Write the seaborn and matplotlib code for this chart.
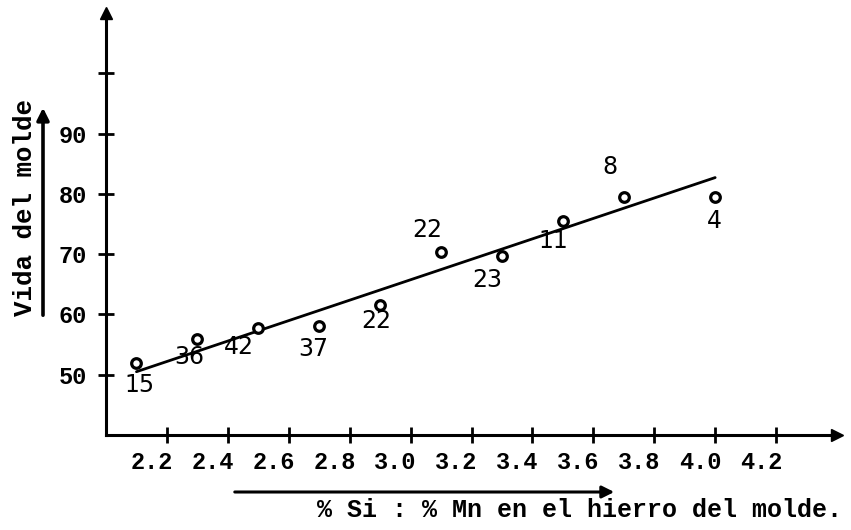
import matplotlib
matplotlib.use("Agg")
import matplotlib.pyplot as plt
import matplotlib.transforms as mtransforms
import seaborn as sns
import pandas as pd

# ---- data ----
ratio_si_mn = [2.1, 2.3, 2.5, 2.7, 2.9, 3.1, 3.3, 3.5, 3.7, 4.0]
mold_life = [52.0, 56.0, 57.7, 58.0, 61.5, 70.3, 69.7, 75.5, 79.5, 79.5]
n_obs = ["15", "36", "42", "37", "22", "22", "23", "11", "8", "4"]
fit_x = [2.1, 4.0]
fit_y = [50.5, 82.7]
x_ticks = [2.2, 2.4, 2.6, 2.8, 3.0, 3.2, 3.4, 3.6, 3.8, 4.0, 4.2]
x_tick_labels = ["2.2", "2.4", "2.6", "2.8", "3.0", "3.2", "3.4", "3.6", "3.8", "4.0", "4.2"]
y_ticks = [50, 60, 70, 80, 90, 100]
y_tick_labels = ["50", "60", "70", "80", "90", ""]

# label offsets (pixels) for the point annotations
label_dx = [3, -8, -19, -6, -4, -14, -15, -10, -14, -1]
label_dy = [-22, -18, -19, -23, -16, 22, -24, -20, 30, -24]

df = pd.DataFrame({"x": ratio_si_mn, "y": mold_life, "n": n_obs})
fit = pd.DataFrame({"x": fit_x, "y": fit_y})

sns.set_style("ticks")
plt.rcParams["font.family"] = ["DejaVu Sans"]
plt.rcParams["text.color"] = "black"
plt.rcParams["axes.labelcolor"] = "black"
plt.rcParams["xtick.color"] = "black"
plt.rcParams["ytick.color"] = "black"

fig = plt.figure(figsize=(8.51, 5.30), dpi=100)
ax = fig.add_axes([106 / 851, 1 - 435 / 530, 731 / 851, 422 / 530])

sns.lineplot(data=fit, x="x", y="y", ax=ax, color="black", linewidth=2.0, zorder=2)
sns.scatterplot(data=df, x="x", y="y", ax=ax, marker="o", s=48,
                facecolor="white", edgecolor="black", linewidth=2.3, zorder=3)

for xi, yi, lab, dx, dy in zip(df["x"], df["y"], df["n"], label_dx, label_dy):
    ax.annotate(lab, (xi, yi), xytext=(dx, dy), textcoords="offset pixels",
                ha="center", va="center", fontsize=17, color="black",
                family="DejaVu Sans")

ax.set_xlim(2.0, 4.4)
ax.set_ylim(40, 110)

for side in ["top", "right"]:
    ax.spines[side].set_visible(False)
for side in ["left", "bottom"]:
    ax.spines[side].set_linewidth(2.2)
    ax.spines[side].set_color("black")

# arrow heads at axis ends
ax.plot(1, 0, ">", color="black", markersize=9, transform=ax.transAxes, clip_on=False)
ax.plot(0, 1, "^", color="black", markersize=9, transform=ax.transAxes, clip_on=False)

ax.set_xticks(x_ticks)
ax.set_xticklabels(x_tick_labels, family="Liberation Mono", fontsize=17, fontweight="bold")
ax.set_yticks(y_ticks)
ax.set_yticklabels(y_tick_labels, family="Liberation Mono", fontsize=17, fontweight="bold")
ax.tick_params(axis="both", direction="inout", length=11, width=2, color="black", pad=8)
ax.tick_params(axis="x", pad=6)

offset = mtransforms.ScaledTranslation(-15 / 100, 0, fig.dpi_scale_trans)
for lbl in ax.get_xticklabels():
    lbl.set_transform(lbl.get_transform() + offset)

ax.set_xlabel("% Si : % Mn en el hierro del molde.", family="Liberation Mono",
              fontweight="bold", fontsize=18)
ax.xaxis.set_label_coords(0.648, -0.178)
ax.xaxis.label.set_va("center")
ax.xaxis.label.set_ha("center")

ax.set_ylabel("Vida del molde", family="Liberation Mono", fontweight="bold", fontsize=18.5)
ax.yaxis.set_label_coords(-0.111, 0.54)
ax.yaxis.label.set_va("center")
ax.yaxis.label.set_ha("center")

# decorative direction arrows beside the axis titles
fig.add_artist(matplotlib.patches.FancyArrowPatch(
    (232 / 851, 1 - 492 / 530), (617 / 851, 1 - 492 / 530),
    transform=fig.transFigure, arrowstyle="-|>", mutation_scale=18,
    linewidth=2.2, color="black"))
fig.add_artist(matplotlib.patches.FancyArrowPatch(
    (43 / 851, 1 - 318 / 530), (43 / 851, 1 - 105 / 530),
    transform=fig.transFigure, arrowstyle="-|>", mutation_scale=18,
    linewidth=2.6, color="black"))

fig.savefig("out.png", dpi=100, facecolor="white")
